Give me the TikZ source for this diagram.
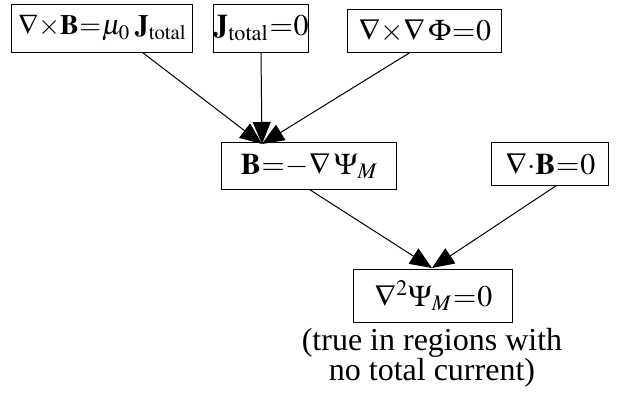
\documentclass[tikz,border=0pt]{standalone}
\usepackage{mathptmx}
\usepackage[no-math]{fontspec}
\setmainfont{Liberation Serif}
\usetikzlibrary{arrows.meta}
\medmuskip=0mu
\thickmuskip=0.5mu

\begin{document}
\begin{tikzpicture}[
    x=0.5pt, y=-0.5pt,
    every node/.style={font=\fontsize{16}{15}\selectfont},
    eqbox/.style={draw, line width=0.5pt, inner sep=0pt, font=\fontsize{15}{15}\selectfont},
    link/.style={-{Triangle[length=11pt, width=9pt]}, line width=0.5pt}
]
    \useasboundingbox (0,0) rectangle (618,402);

    \node[eqbox, minimum width=90.5pt, minimum height=24pt, font=\fontsize{14}{14}\selectfont] (curlB) at (102.5,28) {$\nabla\times\mathbf{B}=\mu_0\mskip3mu\mathbf{J}_{\mathrm{total}}$};
    \node[eqbox, minimum width=47pt, minimum height=24pt] (jzero) at (261,28) {$\mathbf{J}_{\mathrm{total}}=0$};
    \node[eqbox, minimum width=77pt, minimum height=21.5pt] (curlgrad) at (425,30.5) {$\nabla\times\nabla\,\Phi=0$};
    \node[eqbox, minimum width=87.5pt, minimum height=23.5pt] (bgrad) at (309.5,165.5) {$\mathbf{B}=-\nabla\,\Psi_M$};
    \node[eqbox, minimum width=58.5pt, minimum height=21.5pt] (divB) at (550.5,163.5) {$\nabla\cdot\mathbf{B}=0$};
    \node[eqbox, minimum width=79.5pt, minimum height=26.5pt] (lap) at (433.5,295.5) {$\nabla^2\Psi_M=0$};
    \node[align=center] (note) at (432,358) {(true in regions with\\no total current)};

    \coordinate (top) at (262,144);
    \coordinate (bottom) at (432,268);

    \draw[link] ([xshift=20pt]curlB.south) -- (top);
    \draw[link] (jzero.south) -- (top);
    \draw[link] ([xshift=-7.5pt]curlgrad.south) -- (top);
    \draw[link] (bgrad.south) -- (bottom);
    \draw[link] ([xshift=3pt]divB.south) -- (bottom);
\end{tikzpicture}
\end{document}
